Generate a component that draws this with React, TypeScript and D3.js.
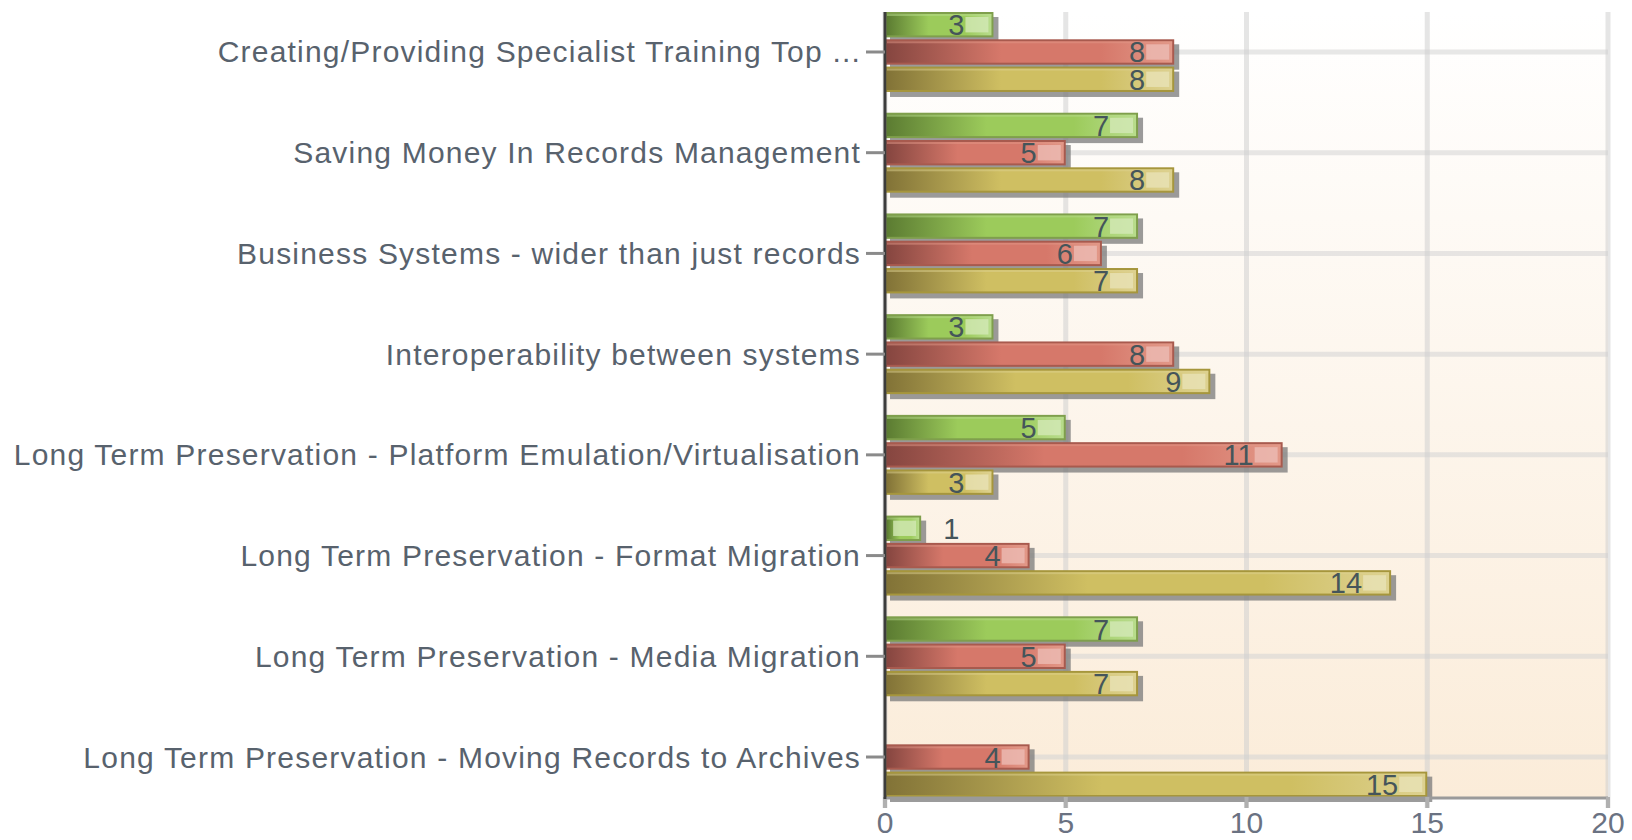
import React from "react";
import * as d3 from "d3";

const categories = [
  "Creating/Providing Specialist Training Top ...",
  "Saving Money In Records Management",
  "Business Systems - wider than just records",
  "Interoperability between systems",
  "Long Term Preservation - Platform Emulation/Virtualisation",
  "Long Term Preservation - Format Migration",
  "Long Term Preservation - Media Migration",
  "Long Term Preservation - Moving Records to Archives",
];
const seriesNames = ["Green", "Red", "Yellow"];
const greenValues = [3, 7, 7, 3, 5, 1, 7, 0];
const redValues = [8, 5, 6, 8, 11, 4, 5, 4];
const yellowValues = [8, 8, 7, 9, 3, 14, 7, 15];
const xTicks = [0, 5, 10, 15, 20];

const seriesValues = [greenValues, redValues, yellowValues];
const seriesStyles = [
  { base: "#9ccb5b", dark: "#5c7c32", light: "#b8dc8c", hi: "#d3e9b6", border: "#7f9f4c" },
  { base: "#d6786a", dark: "#864640", light: "#e29888", hi: "#ecbcb4", border: "#a85a4e" },
  { base: "#cfbf62", dark: "#827337", light: "#ddd190", hi: "#e9e2b6", border: "#a6963c" },
];

const W = 1632;
const H = 840;
const plotLeft = 885;
const plotRight = 1608;
const plotTop = 12;
const plotBottom = 797;

export default function App() {
  const x = d3.scaleLinear().domain([0, 20]).range([plotLeft, plotRight]);
  const y = d3
    .scaleBand<number>()
    .domain(categories.map((_, i) => i))
    .range([plotTop, plotBottom])
    .paddingInner(0.206)
    .paddingOuter(0);
  const ySub = d3
    .scaleBand<number>()
    .domain(seriesNames.map((_, i) => i))
    .range([0, y.bandwidth()])
    .paddingInner(0.07);
  const bh = ySub.bandwidth();
  const tickY = (i: number) => (y(i) as number) + (ySub(1) as number) + bh / 2;

  const font = "'Liberation Sans', Arial, sans-serif";

  return (
    <svg
      width={W}
      height={H}
      style={{ position: "absolute", left: 0, top: 0, background: "#fff" }}
    >
      <defs>
        <linearGradient id="plotbg" x1="0" y1="0" x2="0" y2="1">
          <stop offset="0" stopColor="#ffffff" />
          <stop offset="1" stopColor="#fbecd9" />
        </linearGradient>
        {seriesStyles.map((s, i) => (
          <linearGradient key={i} id={`bar${i}`} x1="0" y1="0" x2="1" y2="0">
            <stop offset="0" stopColor={s.dark} />
            <stop offset="0.4" stopColor={s.base} />
            <stop offset="0.75" stopColor={s.base} />
            <stop offset="1" stopColor={s.light} />
          </linearGradient>
        ))}
      </defs>

      <rect x={plotLeft} y={plotTop} width={plotRight - plotLeft} height={plotBottom - plotTop} fill="url(#plotbg)" />

      {categories.map((_, i) => (
        <line key={`hg${i}`} x1={plotLeft} x2={plotRight} y1={tickY(i)} y2={tickY(i)} stroke="#d4d4d4" strokeOpacity={0.55} strokeWidth={5} />
      ))}
      {xTicks.map((t) => (
        <line key={`vg${t}`} x1={x(t)} x2={x(t)} y1={plotTop} y2={plotBottom + 11} stroke="#d0d0d0" strokeOpacity={0.55} strokeWidth={5} />
      ))}

      {categories.map((_, ci) => (
        <g key={`grp${ci}`}>
          {seriesValues.map((vals, si) => {
            const v = vals[ci];
            if (!v) return null;
            const s = seriesStyles[si];
            const by = (y(ci) as number) + (ySub(si) as number);
            const x0 = x(0);
            const x1 = x(v);
            const w = x1 - x0;
            return (
              <g key={`b${ci}-${si}`}>
                <rect x={x0 + 5} y={by + 5} width={w} height={bh} fill="#7a7a7a" opacity={0.75} />
                <rect x={x0} y={by} width={w} height={bh} fill={s.border} />
                <rect x={x0 + 2} y={by + 2} width={w - 4} height={bh - 4} fill={`url(#bar${si})`} />
                <rect x={x0 + 2} y={by + 2} width={w - 4} height={2} fill={s.light} opacity={0.5} />
                <rect x={Math.max(x0 + 4, x1 - 28)} y={by + 5} width={Math.min(23, w - 9)} height={bh - 10} fill={s.hi} opacity={0.8} />
              </g>
            );
          })}
        </g>
      ))}

      {categories.map((_, ci) =>
        seriesValues.map((vals, si) => {
          const v = vals[ci];
          if (!v) return null;
          const by = (y(ci) as number) + (ySub(si) as number) + bh / 2;
          const inside = v >= 2;
          return (
            <text
              key={`l${ci}-${si}`}
              x={inside ? x(v) - 29 : x(v) + 22}
              y={by + 10.5}
              textAnchor={inside ? "end" : "start"}
              fontFamily={font}
              fontSize={29}
              fill="#45555a"
            >
              {v}
            </text>
          );
        })
      )}

      <line x1={plotLeft} x2={plotRight} y1={plotBottom + 1} y2={plotBottom + 1} stroke="#9a9a9a" strokeWidth={3} />
      {xTicks.map((t) => (
        <line key={`xt${t}`} x1={x(t)} x2={x(t)} y1={plotBottom} y2={plotBottom + 11} stroke="#b0b0b0" strokeWidth={4} />
      ))}
      <line x1={plotLeft} x2={plotLeft} y1={plotTop} y2={plotBottom + 2} stroke="#3c3c3c" strokeWidth={3} />
      {categories.map((_, i) => (
        <line key={`yt${i}`} x1={866} x2={plotLeft} y1={tickY(i)} y2={tickY(i)} stroke="#8a8a8a" strokeWidth={3} />
      ))}

      {xTicks.map((t) => (
        <text key={`xl${t}`} x={x(t)} y={833} textAnchor="middle" fontFamily={font} fontSize={30} fill="#6a7282">
          {t}
        </text>
      ))}

      {categories.map((c, i) => (
        <text
          key={`cl${i}`}
          x={861}
          y={tickY(i) + 10.5}
          textAnchor="end"
          fontFamily={font}
          fontSize={30}
          letterSpacing={1.2}
          fill="#58626d"
        >
          {c}
        </text>
      ))}
    </svg>
  );
}
